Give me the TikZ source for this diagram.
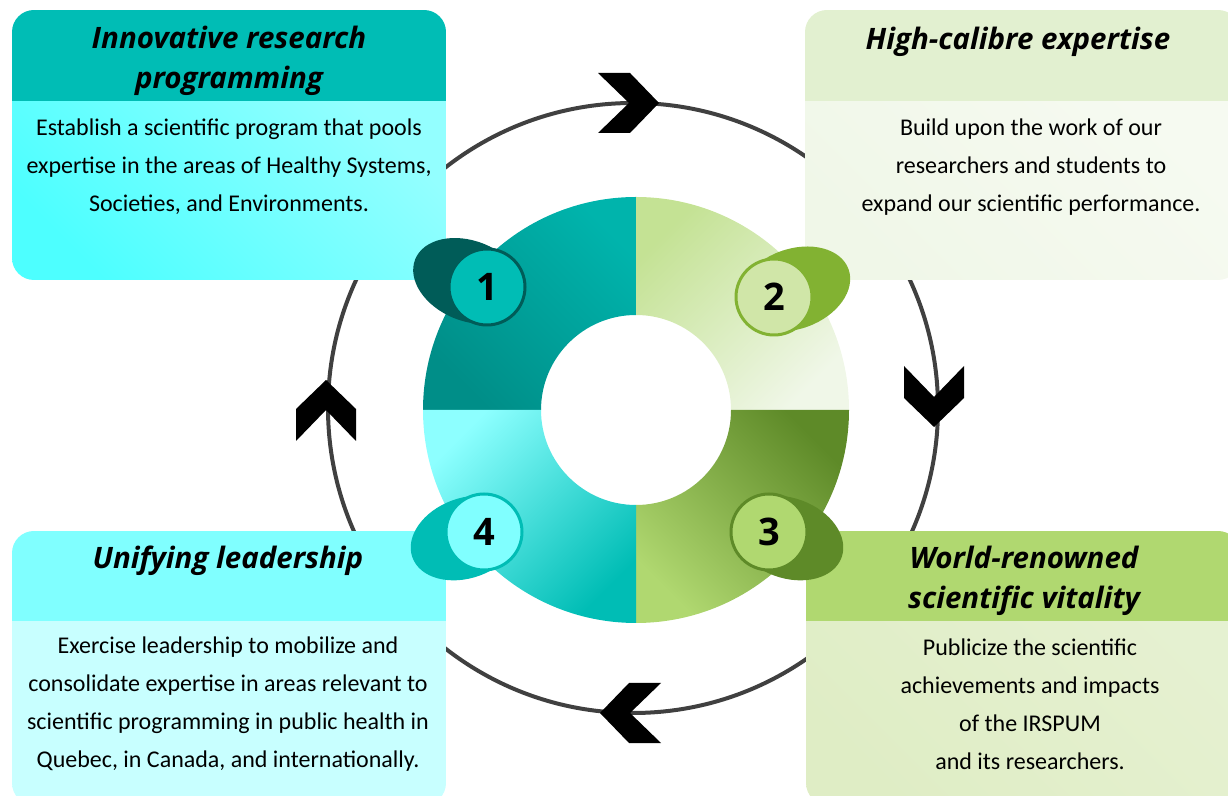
\documentclass[tikz,border=0pt]{standalone}
\usepackage{fontspec}
\setmainfont{Carlito}
\newfontfamily\headfont{Open Sans}

\definecolor{tealA}{HTML}{00BDB5}
\definecolor{tealD}{HTML}{005C58}
\definecolor{cyanA}{HTML}{80FFFF}
\definecolor{cyanB}{HTML}{C8FFFF}
\definecolor{greenH}{HTML}{E2F0D0}
\definecolor{greenB}{HTML}{F0F7E8}
\definecolor{greenA}{HTML}{B0D870}
\definecolor{greenC}{HTML}{DFEDC5}
\definecolor{olive}{HTML}{5E8A28}
\definecolor{leaf}{HTML}{82B232}
\definecolor{leafL}{HTML}{D0E6A8}

% one panel: x1, y1, x2, y2, split, header colour, body top, body bottom
\newcommand{\drawpanel}[8]{%
	\begin{scope}
		\clip[rounded corners=22pt] (#1,#2) rectangle (#3,#4);
		\shade[top color=#7, bottom color=#8, shading angle=-45] (#1,#2) rectangle (#3,#5);
		\fill[#6] (#1,#5) rectangle (#3,#4);
	\end{scope}}

\begin{document}
\begin{tikzpicture}[x=1pt, y=1pt,
	loop/.style={draw=black!75, line width=4pt},
	head/.style={font=\headfont\bfseries\itshape\fontsize{29.5}{40}\selectfont, align=center},
	body/.style={font=\fontsize{24}{38}\selectfont, align=center},
	badge/.style={circle, minimum size=76pt, inner sep=0pt, line width=3pt, font=\headfont\bfseries\fontsize{38}{38}\selectfont},
	chevron/.pic={\fill (-31,30) -- (1,30) -- (30,0) -- (1,-30) -- (-31,-30) -- (0,0) -- cycle;}]
	\useasboundingbox (0,0) rectangle (1228,795);

	% cycle line
	\draw[loop] (633,387) circle (305);

	% panels
	\drawpanel{12}{515}{446}{785}{694}{tealA}{cyanA!85!white}{cyanA!60!cyan}
	\drawpanel{805}{515}{1240}{785}{694}{greenH}{greenB!60!white}{greenB}
	\drawpanel{12}{-10}{446}{264}{174}{cyanA}{cyanB}{cyanB}
	\drawpanel{806}{-10}{1240}{264}{174}{greenA}{greenC!80!white}{greenC}

	% ring
	\foreach \a/\tc/\bc/\sa in {90/tealA!95!black/tealA!75!black/-45, 0/greenA!75!white/greenB/45,
		270/olive/greenA/-45, 180/cyanA!90!white/tealA/45}
		\shade[top color=\tc, bottom color=\bc, shading angle=\sa] (636,385) ++(\a:213)
			arc[start angle=\a, delta angle=90, radius=213] -- ++(\a+90:-118)
			arc[start angle=\a+90, delta angle=-90, radius=95] -- cycle;

	% badges
	\fill[tealD, rotate around={-22:(469,514)}] (469,514) ellipse (58 and 40);
	\node[badge, fill=tealA, draw=tealD] (n1) at (487,508) {1};
	\fill[leaf, rotate around={20:(794,506)}] (794,506) ellipse (58 and 40);
	\node[badge, fill=leafL, draw=leaf] (n2) at (774,498) {2};
	\fill[olive, rotate around={-20:(788,257)}] (788,257) ellipse (57 and 40);
	\node[badge, fill=greenA, draw=olive] (n3) at (769,263) {3};
	\fill[tealA, rotate around={20:(466,257)}] (466,257) ellipse (57 and 40);
	\node[badge, fill=cyanA, draw=tealA] (n4) at (484,263) {4};

	% arrows on the loop
	\pic at (629,692) {chevron};
	\pic[rotate=-90] at (934,398) {chevron};
	\pic[rotate=180] at (630,82) {chevron};
	\pic[rotate=90] at (326,385) {chevron};

	% texts
	\node[head] (h1) at (229,734) {Innovative research\\programming};
	\node[body] (b1) at (229,628) {Establish a scientific program that pools\\expertise in the areas of Healthy Systems,\\Societies, and Environments.};
	\node[head] (h2) at (1018,753) {High-calibre expertise};
	\node[body] (b2) at (1031,628) {Build upon the work of our\\researchers and students to\\expand our scientific performance.};
	\node[head] (h3) at (228,234) {Unifying leadership};
	\node[body] (b3) at (228,91) {Exercise leadership to mobilize and\\consolidate expertise in areas relevant to\\scientific programming in public health in\\Quebec, in Canada, and internationally.};
	\node[head] (h4) at (1024,214) {World-renowned\\scientific vitality};
	\node[body] (b4) at (1030,91) {Publicize the scientific\\achievements and impacts\\of the IRSPUM\\and its researchers.};
\end{tikzpicture}
\end{document}
